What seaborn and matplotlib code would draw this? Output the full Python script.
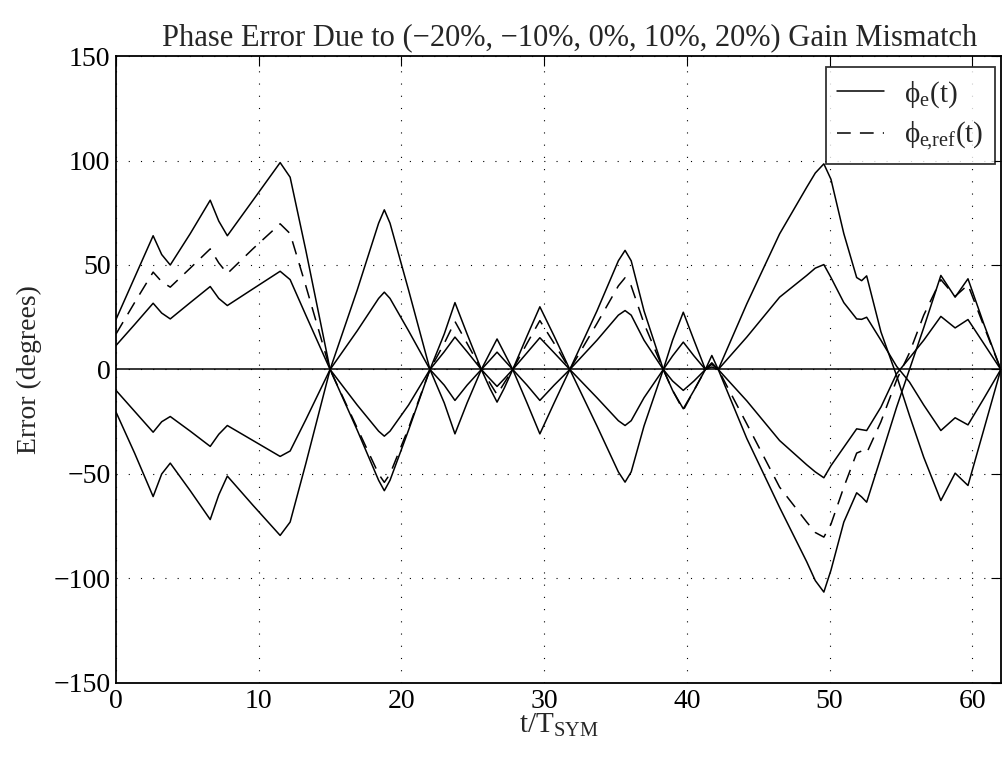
import numpy as np
import pandas as pd
import matplotlib
matplotlib.use("Agg")
import matplotlib.pyplot as plt
from matplotlib.lines import Line2D
import seaborn as sns

# ---- data ----
t = [0, 1.3, 2.6, 3.2, 3.8, 5.2, 6.6, 7.2, 7.8, 9.6, 11.5, 12.2, 13.3, 15.0,
     16.9, 18.4, 18.8, 19.2, 20.5, 22.0,
     23.0, 23.75, 24.6, 25.6,
     26.2, 26.7, 27.2, 27.8,
     28.8, 29.7, 30.7, 31.8,
     33.7, 35.2, 35.67, 36.1, 37.0, 38.35,
     39.0, 39.75, 40.5, 41.3,
     41.75, 42.2,
     44.2, 46.5, 48.4, 49.0, 49.6, 50.1, 51.0, 51.9, 52.25, 52.6, 53.6, 54.7,
     55.6, 56.6, 57.8, 58.8, 59.7, 60.8, 62.0]

curve_a = [24, 44, 64, 55, 50, 65, 81, 71, 64, 81, 99, 92, 57, 0,
           -29, -53, -58, -53, -29, 0,
           17, 32, 17, 0,
           -9, -15.6, -9, 0,
           16, 30, 16, 0,
           28, 52, 57, 52, 28, 0,
           -10, -18.8, -10, 0,
           2.5, 0,
           -33, -66, -92, -101, -106.5, -96, -73, -59, -61, -63.5, -42, -18,
           0, 20, 45, 34.6, 43.4, 22, 0]

curve_b = [-20.4, -40, -60.8, -50, -44.8, -58, -71.8, -60, -51, -65, -79.4, -73, -45, 0,
           38, 70, 76.4, 70, 38, 0,
           -16, -30.8, -16, 0,
           8, 14.6, 8, 0,
           -16, -30.8, -16, 0,
           -27, -49, -53.9, -49, -27, 0,
           14, 27.4, 14, 0,
           6.7, 0,
           31.4, 64.9, 87.2, 94, 98.4, 91, 65, 44, 42.5, 44.8, 18, -3,
           -22, -42, -62.7, -49.6, -55.5, -29, 0]

curve_c = [11.5, 21.5, 31.7, 27, 24.2, 32, 39.7, 34, 30.6, 38.6, 47, 43, 26, 0,
           -17, -29.5, -31.9, -29.5, -17, 0,
           8.5, 15.5, 8.5, 0,
           -4.5, -8.1, -4.5, 0,
           8, 15.2, 8, 0,
           14, 26, 28.2, 26, 14, 0,
           -5.5, -10, -5.5, 0,
           1.2, 0,
           -15, -34, -45.6, -49, -51.8, -46, -37.2, -28.4, -28.8, -29.2, -18, -2,
           5.5, 14, 25.4, 19.9, 23.9, 12.5, 0]

curve_d = [-10, -20, -30, -25, -22.5, -29.5, -36.8, -31, -26.8, -34, -41.6, -39, -24, 0,
           18.5, 34, 37, 34, 18.5, 0,
           -7.5, -14.8, -7.5, 0,
           4.5, 8.3, 4.5, 0,
           -7.5, -14.8, -7.5, 0,
           -13.5, -24.5, -26.8, -24.5, -13.5, 0,
           6.5, 13.1, 6.5, 0,
           3.2, 0,
           15.5, 34.6, 45, 48.5, 50.2, 44, 32, 24.2, 24, 25, 14, 1.5,
           -6, -17, -29.2, -23.1, -26.5, -14, 0]

curve_zero = [0] * len(t)

curve_ref = [17, 32, 46.6, 42, 39.4, 48.5, 57.7, 51, 45.9, 57.8, 69.7, 65, 40, 0,
             -28, -50, -54, -50, -28, 0,
             12.5, 23, 12.5, 0,
             -6.5, -12, -6.5, 0,
             12.5, 23.4, 12.5, 0,
             22, 40, 43.9, 40, 22, 0,
             -10, -19.5, -10, 0,
             2.8, 0,
             -26, -56.3, -73, -78, -80.2, -74, -56.3, -40, -39, -40, -25, -5,
             8, 26, 43, 35, 40.5, 21, 0]

title = "Phase Error Due to (\u221220%, \u221210%, 0%, 10%, 20%) Gain Mismatch"
xlabel = r"t/T$_{\mathrm{SYM}}$"
ylabel = "Error (degrees)"
legend_labels = ["\u03d5$_{\\mathrm{e}}$(t)", "\u03d5$_{\\mathrm{e}\\!,\\!\\mathrm{ref}}$(t)"]
xticks = [0, 10, 20, 30, 40, 50, 60]
yticks = [-150, -100, -50, 0, 50, 100, 150]

# ---- build long table ----
solid = {"-20%": curve_a, "-10%": curve_c, "0%": curve_zero, "10%": curve_d, "20%": curve_b}
rows = []
for name, vals in solid.items():
    for tt, vv in zip(t, vals):
        rows.append((tt, vv, name))
df_solid = pd.DataFrame(rows, columns=["t", "err", "gain"])
df_ref = pd.DataFrame({"t": t, "err": curve_ref})

sns.set_theme(style="white")
plt.rcParams["font.family"] = ["Liberation Serif", "DejaVu Serif"]
plt.rcParams["mathtext.fontset"] = "custom"
plt.rcParams["mathtext.rm"] = "Liberation Serif"
plt.rcParams["mathtext.it"] = "Liberation Serif:italic"
plt.rcParams["axes.unicode_minus"] = True

fig = plt.figure(figsize=(10.02, 7.62), dpi=100)
ax = fig.add_axes([0.1158, 0.1037, 0.883, 0.8228])

sns.lineplot(data=df_solid, x="t", y="err", units="gain", estimator=None,
             color="black", lw=1.1, ax=ax, legend=False, sort=False)
sns.lineplot(data=df_ref, x="t", y="err", estimator=None, color="black",
             lw=1.1, ax=ax, legend=False, sort=False)
ax.lines[-1].set_dashes([9, 6])

ax.set_xlim(0, 62)
ax.set_ylim(-150, 150)
ax.set_xticks(xticks)
ax.set_yticks(yticks)
ax.set_xticklabels([str(v) for v in xticks])
ax.set_yticklabels([str(v).replace("-", "\u2212") for v in yticks])
ax.tick_params(direction="in", length=7, width=0.8, labelsize=20, top=True, right=True,
               colors="black", pad=4)
ax.grid(True, color="black", linestyle=(0, (1, 10)), linewidth=0.8)
for s in ax.spines.values():
    s.set_color("black")
    s.set_linewidth(1.3)

ax.set_title(title, fontsize=22, pad=8, x=0.513)
ax.set_xlabel(xlabel, fontsize=21, labelpad=-1)
ax.set_ylabel(ylabel, fontsize=20, labelpad=8)

handles = [Line2D([0], [0], color="black", lw=1.1),
           Line2D([0], [0], color="black", lw=1.1, dashes=[9, 6])]
leg = ax.legend(handles, legend_labels, loc="upper right", fontsize=21,
                frameon=True, fancybox=False, edgecolor="black",
                borderpad=0.4, handlelength=1.6, labelspacing=0.35,
                bbox_to_anchor=(0.994, 0.982), borderaxespad=0.0, handletextpad=0.7)
leg.get_frame().set_linewidth(1.3)

fig.savefig("out.png", dpi=100)
